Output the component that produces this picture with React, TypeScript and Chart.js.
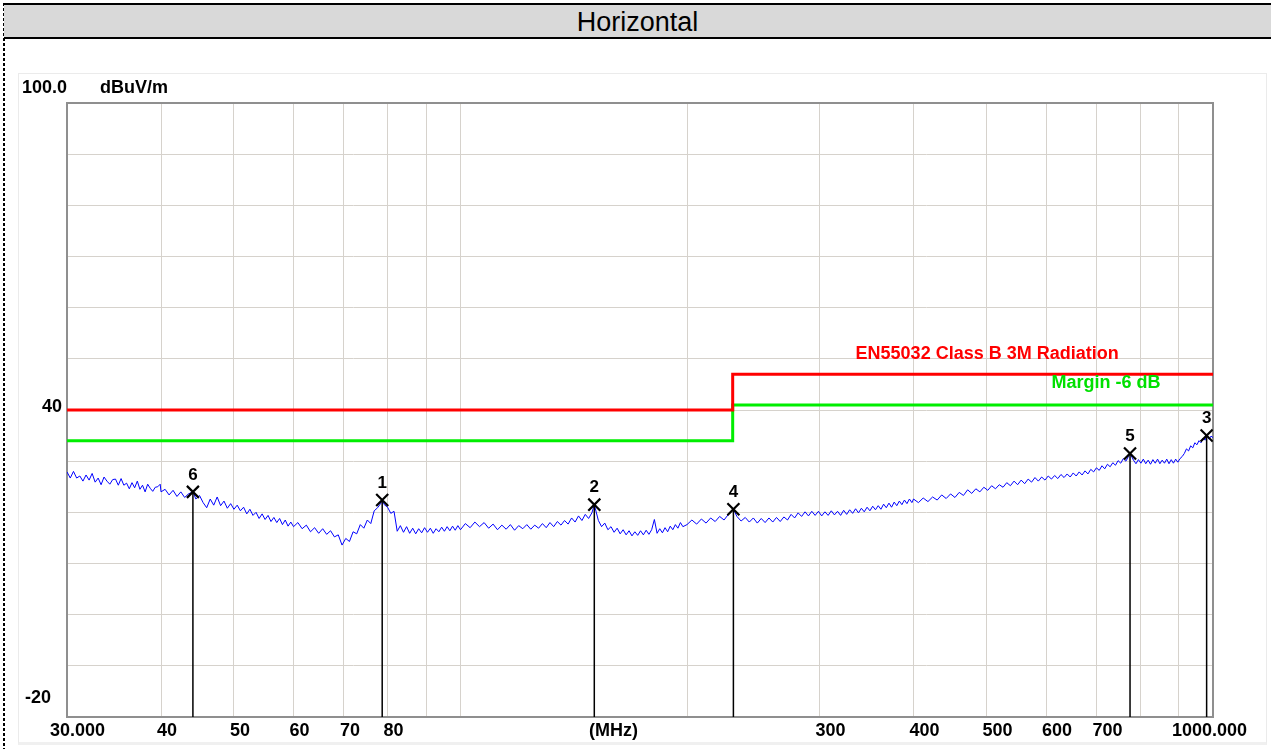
import React, { useEffect, useRef } from "react";
import { Chart, registerables } from "chart.js";

Chart.register(...registerables);

// ---- data (frequencies in MHz, levels in dBuV/m) ----
const traceFreq = [
  30.0, 30.3, 30.6, 30.9, 31.2, 31.5, 31.8, 32.1, 32.4, 32.7,
  33.0, 33.3, 33.6, 33.9, 34.2, 34.5, 34.8, 35.1, 35.4, 35.7,
  36.0, 36.3, 36.6, 36.9, 37.2, 37.5, 37.8, 38.1, 38.4, 38.7,
  39.0, 39.3, 39.6, 39.9,
  40.0, 40.5, 41.0, 41.5, 42.0, 42.5, 43.0, 43.5, 44.1, 44.5,
  45.0, 45.5, 46.0, 46.5, 47.0, 47.5, 48.0, 48.5, 49.0, 49.5,
  50.0, 50.5, 51.0, 51.5, 52.0, 52.5, 53.0, 53.5, 54.0, 54.5,
  55.0, 55.5, 56.0, 56.5, 57.0, 57.5, 58.0, 58.5, 59.0, 59.5,
  60.0, 60.8, 61.6, 62.4, 63.2, 64.0, 64.8, 65.6, 66.4, 67.2,
  68.0, 68.8, 69.6, 70.4, 71.2, 72.0, 72.8, 73.6, 74.4, 75.2,
  76.0, 76.8, 77.6, 78.4, 78.7, 79.2, 80.0, 80.8, 81.6, 82.4,
  83.2, 84.0, 84.8, 85.6, 86.4, 87.2, 88.0, 88.8, 89.6, 90.4,
  91.2, 92.0, 92.8, 93.6, 94.4, 95.2, 96.0, 96.8, 97.6, 98.4,
  99.2,
  100.0, 101.5, 103.0, 104.5, 106.0, 107.5, 109.0, 110.5, 112.0, 113.5,
  115.0, 116.5, 118.0, 119.5, 121.0, 122.5, 124.0, 125.5, 127.0, 128.5,
  130.0, 131.5, 133.0, 134.5, 136.0, 137.5, 139.0, 140.5, 142.0, 143.5,
  145.0, 146.5, 148.0, 149.5, 150.6, 152.5, 154.0, 155.5, 157.0, 158.5,
  160.0, 161.5, 163.0, 164.5, 166.0, 167.5, 169.0, 170.5, 172.0, 173.5,
  175.0, 176.5, 178.0, 179.5, 181.0, 182.5, 184.0, 185.5, 187.0, 188.5,
  190.0, 191.5, 193.0, 194.5, 196.0, 197.5,
  200, 203, 206, 209, 212, 215, 218, 221, 224, 227,
  230.5, 233, 236, 239, 242, 245, 248, 251, 254, 257,
  260, 263, 266, 269, 272, 275, 278, 281, 284, 287,
  290, 293, 296, 299, 302, 305, 308, 311, 314, 317,
  320, 323, 326, 329, 332, 335, 338, 341, 344, 347,
  350, 353, 356, 359, 362, 365, 368, 371, 374, 377,
  380, 383, 386, 389, 392, 395, 398,
  400, 406, 412, 418, 424, 430, 436, 442, 448, 454,
  460, 466, 472, 478, 484, 490, 496, 502, 508, 514,
  520, 526, 532, 538, 544, 550, 556, 562, 568, 574,
  580, 586, 592, 598, 604, 610, 616, 622, 628, 634,
  640, 646, 652, 658, 664, 670, 676, 682, 688, 694,
  700, 706, 712, 718, 724, 730, 736, 742, 748, 754,
  760, 766, 772, 775.8, 784, 790, 796, 802, 808, 814,
  820, 826, 832, 838, 844, 850, 856, 862, 868, 874,
  880, 886, 892, 898, 904, 910, 916, 922, 928, 934,
  940, 946, 952, 958, 964, 970, 976, 980.7, 988, 994,
  1000,
];
const traceLevel = [
  27.9, 26.7, 28.0, 26.7, 27.1, 26.1, 27.3, 26.3, 27.6, 25.9,
  26.7, 25.4, 26.9, 26.1, 25.5, 26.4, 26.5, 25.3, 26.6, 25.3,
  25.7, 24.6, 25.8, 24.8, 26.1, 24.5, 25.3, 24.0, 25.5, 24.7,
  24.1, 24.9, 25.0, 25.5,
  24.0, 24.5, 23.4, 24.3, 23.1, 24.0, 22.9, 23.6, 24.0, 22.6,
  23.3, 21.9, 20.9, 22.6, 21.4, 23.0, 21.3, 22.2, 20.8, 21.7,
  20.6, 21.4, 20.3, 21.0, 19.7, 20.6, 19.4, 20.0, 18.8, 19.7,
  18.6, 19.4, 18.2, 19.0, 18.0, 18.8, 17.6, 18.5, 17.3, 18.1,
  17.2, 18.0, 16.8, 17.5, 16.2, 17.0, 15.9, 16.8, 15.7, 16.4,
  15.2, 15.6, 13.6, 14.9, 14.3, 16.2, 15.8, 17.6, 16.9, 18.5,
  17.8, 20.3, 20.9, 21.8, 22.4, 21.5, 21.0, 19.8, 20.2, 16.3,
  17.4, 16.1, 17.2, 15.9, 16.9, 15.8, 16.8, 16.0, 17.0, 16.1,
  16.9, 15.9, 16.8, 16.2, 17.1, 16.3, 17.2, 16.4, 17.3, 16.5,
  17.4,
  16.6, 17.8, 17.0, 18.1, 17.2, 18.0, 16.9, 17.7, 16.6, 17.5,
  16.7, 17.6, 16.5, 17.4, 16.8, 17.6, 16.7, 17.5, 16.9, 17.8,
  17.0, 18.0, 17.2, 18.2, 17.5, 18.4, 17.7, 18.9, 18.1, 19.3,
  18.4, 19.6, 18.8, 19.9, 21.5, 18.4, 17.2, 17.9, 16.6, 17.2,
  16.1, 16.9, 15.8, 16.6, 15.6, 16.4, 15.4, 16.2, 15.5, 16.4,
  15.6, 16.5, 15.7, 16.6, 18.6, 15.9, 16.8, 16.0, 17.0, 16.2,
  17.3, 16.6, 17.6, 16.9, 18.0, 17.2,
  17.6, 18.5, 17.7, 18.7, 17.9, 18.9, 18.2, 19.2, 18.5, 19.6,
  20.6, 19.2, 18.3, 19.0, 18.1, 18.9, 17.9, 18.8, 18.0, 18.9,
  18.1, 19.0, 18.2, 19.1, 18.5, 19.6, 18.9, 19.9, 19.2, 20.1,
  19.3, 20.2, 19.4, 20.2, 19.3, 20.1, 19.4, 20.3, 19.5, 20.2,
  19.4, 20.4, 19.6, 20.5, 19.8, 20.7, 19.9, 20.8, 20.1, 21.0,
  20.3, 21.2, 20.5, 21.3, 20.6, 21.6, 20.9, 21.8, 21.0, 22.0,
  21.3, 22.2, 21.5, 22.4, 21.7, 22.6, 21.9,
  22.6, 21.9, 22.8, 22.1, 23.0, 22.4, 23.4, 22.7, 23.6, 22.9,
  23.9, 23.3, 24.4, 23.7, 24.6, 24.0, 24.9, 24.3, 25.2, 24.6,
  25.4, 24.9, 25.8, 25.2, 26.1, 25.4, 26.3, 25.6, 26.5, 25.9,
  26.8, 26.1, 26.9, 26.3, 27.1, 26.5, 27.2, 26.6, 27.4, 26.8,
  27.5, 26.9, 27.7, 27.1, 27.9, 27.3, 28.1, 27.5, 28.4, 27.9,
  28.7, 28.2, 29.1, 28.5, 29.4, 28.9, 29.7, 29.2, 30.1, 29.6,
  30.5, 30.0, 30.9, 31.5, 30.2, 29.5, 30.3, 29.6, 30.4, 29.5,
  30.2, 29.4, 30.3, 29.6, 30.4, 29.5, 30.2, 29.6, 30.4, 29.5,
  30.3, 29.6, 30.4, 29.8, 30.5, 30.9, 31.5, 32.4, 32.0, 33.0,
  32.6, 33.6, 33.2, 34.0, 33.6, 34.5, 34.1, 35.0, 34.3, 34.9,
  34.6,
];

const limitFreq = [30, 230, 230, 1000];
const limitLevel = [40, 40, 47, 47];
const marginLevel = [34, 34, 41, 41];
const limitName = "EN55032 Class B 3M Radiation";
const marginName = "Margin -6 dB";

const markerNo = ["1", "2", "3", "4", "5", "6"];
const markerFreq = [78.7, 150.6, 980.7, 230.5, 775.8, 44.1];
const markerLevel = [22.4, 21.5, 35.0, 20.6, 31.5, 24.0];

const xGridValues = [40, 50, 60, 70, 80, 90, 100, 200, 300, 400, 500, 600, 700, 800, 900];
const xTickValues = [30, 40, 50, 60, 70, 80, 150, 300, 400, 500, 600, 700, 1000];
const xTickLabels = ["30.000", "40", "50", "60", "70", "80", "(MHz)", "300", "400", "500", "600", "700", "1000.000"];
const yTickValues = [100, 40, -20];
const yTickLabels = ["100.0", "40", "-20"];
const yUnit = "dBuV/m";
const title = "Horizontal";

const FONT = '"Liberation Sans", Arial, sans-serif';
const GRID = "#d6d2cc";

const textPlugin = {
  id: "emiText",
  beforeDatasetsDraw(chart: any) {
    const { ctx, chartArea: a } = chart;
    ctx.save();
    ctx.strokeStyle = "#8f8f8f";
    ctx.lineWidth = 2;
    ctx.strokeRect(a.left, a.top, a.right - a.left, a.bottom - a.top);
    ctx.restore();
  },
  afterDraw(chart: any) {
    const { ctx, chartArea: a, scales } = chart;
    const xs = scales.x;
    const ys = scales.y;
    ctx.save();
    ctx.fillStyle = "#000";
    ctx.textBaseline = "middle";
    ctx.font = `bold 18px ${FONT}`;
    // y labels
    yTickValues.forEach((v, i) => {
      const py = ys.getPixelForValue(v);
      if (i === 0) {
        ctx.textAlign = "left";
        ctx.fillText(yTickLabels[i], a.left - 45, py - 15);
        ctx.fillText(yUnit, a.left + 33, py - 15);
      } else if (i === yTickValues.length - 1) {
        ctx.textAlign = "left";
        ctx.fillText(yTickLabels[i], a.left - 42, py - 19);
      } else {
        ctx.textAlign = "right";
        ctx.fillText(yTickLabels[i], a.left - 5, py - 3);
      }
    });
    // x labels
    xTickValues.forEach((v, i) => {
      const px = xs.getPixelForValue(v);
      const py = a.bottom + 14;
      if (i === 0) {
        ctx.textAlign = "left";
        ctx.fillText(xTickLabels[i], px - 17, py);
      } else if (i === xTickValues.length - 1) {
        ctx.textAlign = "right";
        ctx.fillText(xTickLabels[i], px + 34, py);
      } else {
        ctx.textAlign = "left";
        ctx.fillText(xTickLabels[i], px - 4, py);
      }
    });
    // limit names
    ctx.textAlign = "left";
    ctx.fillStyle = "#ff0000";
    ctx.fillText(limitName, xs.getPixelForValue(335), ys.getPixelForValue(limitLevel[3]) - 20);
    ctx.fillStyle = "#00e000";
    ctx.fillText(marginName, xs.getPixelForValue(610), ys.getPixelForValue(marginLevel[3]) - 22);
    // marker numbers
    ctx.fillStyle = "#000";
    ctx.textAlign = "center";
    ctx.font = `bold 17px ${FONT}`;
    markerNo.forEach((n, i) => {
      ctx.fillText(n, xs.getPixelForValue(markerFreq[i]), ys.getPixelForValue(markerLevel[i]) - 17);
    });
    ctx.restore();
  },
};

export default function App() {
  const ref = useRef<HTMLCanvasElement | null>(null);

  useEffect(() => {
    if (!ref.current) return;
    const markerSets = markerNo.map((n, i) => ({
      label: "M" + n,
      data: [
        { x: markerFreq[i], y: markerLevel[i] },
        { x: markerFreq[i], y: -20 },
      ],
      borderColor: "#000",
      borderWidth: 1.5,
      pointStyle: "crossRot",
      pointRadius: [8.5, 0],
      pointBorderColor: "#000",
      pointBorderWidth: 2.2,
      pointBackgroundColor: "#000",
    }));
    const chart = new Chart(ref.current, {
      type: "line",
      data: {
        datasets: [
          ...markerSets,
          {
            label: "trace",
            data: traceFreq.map((f, i) => ({ x: f, y: traceLevel[i] })),
            borderColor: "#0000ff",
            borderWidth: 1,
            pointRadius: 0,
          },
          {
            label: "limit",
            data: limitFreq.map((f, i) => ({ x: f, y: limitLevel[i] })),
            borderColor: "#ff0000",
            borderWidth: 3,
            pointRadius: 0,
          },
          {
            label: "margin",
            data: limitFreq.map((f, i) => ({ x: f, y: marginLevel[i] })),
            borderColor: "#00ee00",
            borderWidth: 3,
            pointRadius: 0,
          },
        ] as any,
      },
      options: {
        responsive: false,
        animation: false,
        events: [],
        layout: { padding: { left: 49, top: 30, right: 54, bottom: 28 } },
        plugins: { legend: { display: false }, tooltip: { enabled: false } },
        elements: { line: { tension: 0 } },
        scales: {
          x: {
            type: "logarithmic",
            min: 30,
            max: 1000,
            ticks: { display: false },
            grid: { color: GRID, lineWidth: 1, drawTicks: false },
            border: { display: false },
            afterBuildTicks: (s: any) => {
              s.ticks = xGridValues.map((v) => ({ value: v }));
            },
          },
          y: {
            type: "linear",
            min: -20,
            max: 100,
            ticks: { display: false, stepSize: 10 },
            grid: { color: GRID, lineWidth: 1, drawTicks: false },
            border: { display: false },
          },
        },
      } as any,
      plugins: [textPlugin],
    });
    return () => chart.destroy();
  }, []);

  return (
    <div
      style={{
        position: "absolute",
        left: 0,
        top: 0,
        width: 1271,
        height: 749,
        background: "#fff",
        overflow: "hidden",
      }}
    >
      <div
        style={{
          position: "absolute",
          left: 3,
          top: 3,
          width: 2,
          height: 746,
          background: "repeating-linear-gradient(to bottom, #000 0px, #000 3px, transparent 3px, transparent 5px)",
        }}
      />
      <div
        style={{
          position: "absolute",
          left: 4,
          top: 3,
          width: 1267,
          height: 32,
          borderTop: "2px solid #000",
          borderBottom: "2px solid #000",
          background: "#d9d9d9",
          textAlign: "center",
          font: `27px ${FONT}`,
          lineHeight: "34px",
          color: "#000",
        }}
      >
        {title}
      </div>
      <div
        style={{
          position: "absolute",
          left: 18,
          top: 73,
          width: 1249,
          height: 672,
          boxSizing: "border-box",
          border: "1px solid #ebebeb",
          borderBottom: "3px solid #f0f0f0",
        }}
      />
      <canvas
        ref={ref}
        width={1249}
        height={672}
        style={{ position: "absolute", left: 18, top: 73, width: 1249, height: 672, display: "block" }}
      />
    </div>
  );
}
